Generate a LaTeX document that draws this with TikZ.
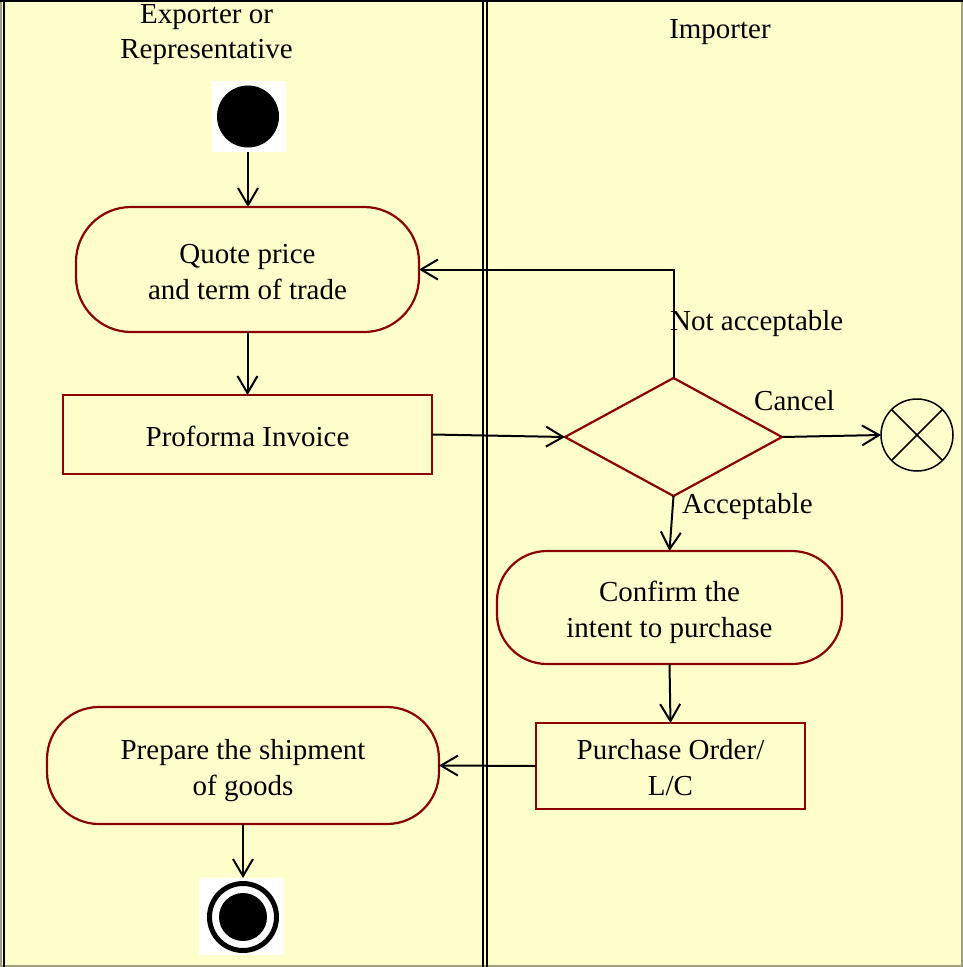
\documentclass[tikz,border=0pt]{standalone}
\usepackage{fontspec}
\setmainfont{Liberation Serif}
\usetikzlibrary{arrows.meta,shapes.geometric}
\definecolor{bg}{HTML}{FFFFCC}
\definecolor{boxred}{HTML}{8B0000}
\definecolor{edgegray}{HTML}{A0A080}
\newcommand\tstr{\rule{0pt}{34pt}}
\newcommand\bstr{\rule[-10.8pt]{0pt}{10.8pt}}
\begin{document}
\begin{tikzpicture}[x=1pt,y=-1pt,
  font=\fontsize{29}{36}\selectfont,
  act/.style={draw=boxred, line width=2.2pt, fill=bg, rounded corners=#1, inner sep=0pt, outer sep=0pt, align=center},
  obj/.style={draw=boxred, line width=2.2pt, fill=bg, inner sep=0pt, outer sep=0pt, align=center},
  arr/.style={draw=black, line width=2pt, -{Straight Barb[length=17pt,width=20pt,line width=2pt]}},
  lbl/.style={inner sep=0pt, anchor=base west},
  head/.style={inner sep=0pt, anchor=base},
]
\useasboundingbox (0,0) rectangle (963,967);
\fill[bg] (0,0) rectangle (963,967);
% frame
\draw[edgegray, line width=1.5pt] (962,0) -- (962,967);
\draw[edgegray, line width=1.5pt] (0,965.8) -- (963,965.8);
\draw[edgegray, line width=2pt] (1,967) -- (1,0);
\draw[line width=2.2pt] (3.6,967) -- (3.6,1);
\draw[line width=2pt] (0,1) -- (963,1);
% swimlane divider
\draw[line width=2pt] (483,0) -- (483,967);
\draw[line width=2pt] (486.5,0) -- (486.5,967);
% headers
\node[head] (h1) at (206.5,23) {Exporter or};
\node[head] (h2) at (206.5,58) {Representative};
\node[head] (h3) at (720,38) {Importer};
% start
\node[fill=white, minimum width=74pt, minimum height=71pt, inner sep=0pt, outer sep=0pt] (start) at (249,116.5) {};
\node[circle, fill=black, minimum size=62pt, inner sep=0pt] (startdot) at (248,116.5) {};
% activities
\node[act=55pt, minimum width=343pt, minimum height=125pt] (quote) at (247.5,269.5) {\tstr Quote price\\and term of trade\bstr};
\node[obj, minimum width=369pt, minimum height=79pt] (proforma) at (247.5,434.5) {\tstr Proforma Invoice\bstr};
\node[diamond, draw=boxred, line width=2.2pt, fill=bg, inner sep=0pt, outer sep=0pt, minimum width=217pt, minimum height=118pt] (dec) at (673.5,437) {};
\node[circle, draw=black, line width=1.5pt, fill=bg, minimum size=72pt, inner sep=0pt, outer sep=0pt] (cancel) at (917,435) {};
\draw[line width=1.5pt] (cancel.north east) -- (cancel.south west);
\draw[line width=1.5pt] (cancel.north west) -- (cancel.south east);
\node[act=50pt, minimum width=345pt, minimum height=113pt] (confirm) at (669.5,607.5) {\tstr Confirm the\\intent to purchase\bstr};
\node[obj, minimum width=269pt, minimum height=86pt] (purchase) at (670.5,766) {\tstr Purchase Order/\\L/C\bstr};
\node[act=52pt, minimum width=392pt, minimum height=117pt] (prepare) at (243,765.5) {\tstr Prepare the shipment\\of goods\bstr};
% end
\node[fill=white, minimum width=85pt, minimum height=77pt, inner sep=0pt, outer sep=0pt] (endbox) at (241.5,916.5) {};
\node[circle, draw=black, line width=5pt, minimum size=67pt, inner sep=0pt, outer sep=0pt] (endring) at (243,917) {};
\node[circle, fill=black, minimum size=48pt, inner sep=0pt] (enddot) at (243,917) {};
% connectors
\draw[arr] (startdot.south |- start.south) -- (startdot.south |- quote.north);
\draw[arr] (quote.south) -- (proforma.north);
\draw[arr] (proforma.east) -- (dec.west);
\draw[arr] (dec.north) |- (quote.east);
\draw[arr] (dec.east) -- (cancel.west);
\draw[arr] (dec.south) -- (confirm.north);
\draw[arr] (confirm.south) -- (purchase.north);
\draw[arr] (purchase.west) -- (prepare.east);
\draw[arr] (endring.north |- prepare.south) -- (endring.north |- endbox.north);
% labels
\node[lbl] (na) at (670,330) {Not acceptable};
\node[lbl] (cl) at (754,410) {Cancel};
\node[lbl] (ac) at (682,513) {Acceptable};
\end{tikzpicture}
\end{document}
